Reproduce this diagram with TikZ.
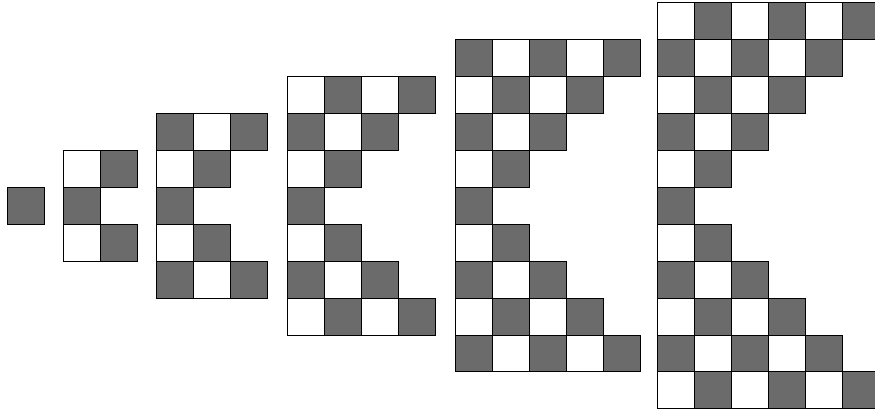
\documentclass[tikz,border=0pt]{standalone}
\usepackage{tikz}

\begin{document}
\begin{tikzpicture}[
    x=1pt, y=-1pt,
    sq/.style={draw=black, line width=0.8pt}]
  \useasboundingbox (0,0) rectangle (875,412);
  \clip (0,0) rectangle (875,412);
  % one checker wedge per n, all centred on the same row
  \foreach \n/\xl in {1/7,2/63.3,3/156.7,4/287.3,5/455,6/657.3} {
    \pgfmathtruncatemacro\rmax{2*\n-2}
    \foreach \r in {0,...,\rmax} {
      \pgfmathtruncatemacro\cmax{abs(\r-\n+1)}
      \pgfmathsetmacro\yt{205.8-(2*\n-1)*36.9/2+\r*36.9}
      \foreach \c in {0,...,\cmax} {
        \pgfmathtruncatemacro\odd{mod(\r+\c+\n,2)}
        \pgfmathsetmacro\shade{\odd==1 ? 58 : 0}
        \draw[sq, fill=black!\shade] (\xl+\c*37,\yt) rectangle ++(37,36.9);
      }
    }
  }
\end{tikzpicture}
\end{document}
